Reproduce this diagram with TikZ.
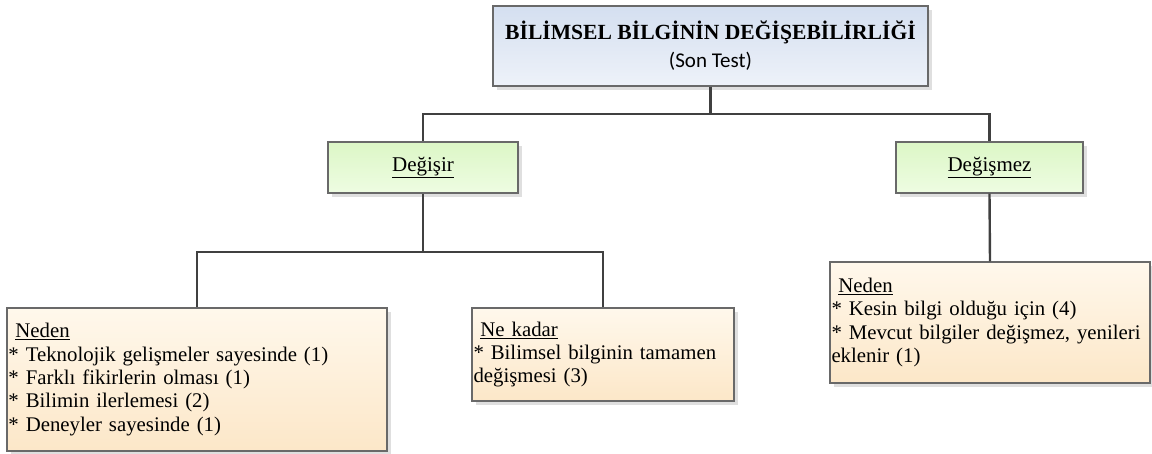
\documentclass[tikz,border=0pt]{standalone}
\usepackage{fontspec}
\setmainfont{Liberation Serif}
\newfontfamily\calibrifont{Carlito}
\usetikzlibrary{shadows}
\definecolor{linegray}{RGB}{64,64,64}
\definecolor{boxgray}{RGB}{105,105,105}
\definecolor{titletop}{RGB}{212,223,240}
\definecolor{titlebot}{RGB}{238,242,249}
\definecolor{greentop}{RGB}{220,247,198}
\definecolor{greenbot}{RGB}{238,252,226}
\definecolor{orangetop}{RGB}{255,248,236}
\definecolor{orangebot}{RGB}{252,231,200}

\begin{document}
\begin{tikzpicture}[x=1pt, y=-1pt,
    box/.style={draw=boxgray, line width=1.2pt, rectangle, inner sep=0pt,
        drop shadow={shadow xshift=4pt, shadow yshift=-4pt, fill=black!25, opacity=.5}},
    titlebox/.style={box, top color=titletop, bottom color=titlebot, minimum width=435pt, minimum height=80pt, align=center},
    branch/.style={box, top color=greentop, bottom color=greenbot, minimum height=51pt, font=\fontsize{21}{24}\selectfont},
    reason/.style={box, top color=orangetop, bottom color=orangebot, align=left, inner xsep=1.5pt, font=\fontsize{20.8}{23.3}\selectfont},
    link/.style={draw=linegray, line width=2.4pt}
]
\useasboundingbox (0,0) rectangle (1152,453);

% title
\node[titlebox, font=\fontsize{21.6}{28}\selectfont] (title) at (710.5,46)
    {{\bfseries BİLİMSEL BİLGİNİN DEĞİŞEBİLİRLİĞİ}\\{\calibrifont\fontsize{21}{20}\selectfont (Son Test)}};

% branches
\node[branch, minimum width=190pt] (degisir) at (423,167.5) {\underline{Değişir}};
\node[branch, minimum width=187pt] (degismez) at (989.5,167.5) {\underline{Değişmez}};

% reasons
\node[reason, text width=377pt, minimum height=143pt] (neden1) at (197,379.5)
    {\ \underline{Neden}\\{*} Teknolojik gelişmeler sayesinde (1)\\{*} Farklı fikirlerin olması (1)\\{*} Bilimin ilerlemesi (2)\\{*} Deneyler sayesinde (1)};
\node[reason, text width=259pt, minimum height=93pt] (nekadar) at (603,354.5)
    {\ \underline{Ne kadar}\\{*} Bilimsel bilginin tamamen\\değişmesi (3)};
\node[reason, text width=317pt, minimum height=121pt] (neden2) at (990,322.5)
    {\ \underline{Neden}\\{*} Kesin bilgi olduğu için (4)\\{*} Mevcut bilgiler değişmez, yenileri\\eklenir (1)};

% connectors
\coordinate (bus1) at (0,114);
\coordinate (bus2) at (0,252);
\draw[link] (title.south) -- (title.south |- bus1) -| (degisir.north);
\draw[link] (title.south |- bus1) -| (degismez.north);
\draw[link] (degisir.south) -- (degisir.south |- bus2) -| (neden1.north);
\draw[link] (degisir.south |- bus2) -| (nekadar.north);
\draw[link] (degismez.south) -- (neden2.north);

\end{tikzpicture}
\end{document}
